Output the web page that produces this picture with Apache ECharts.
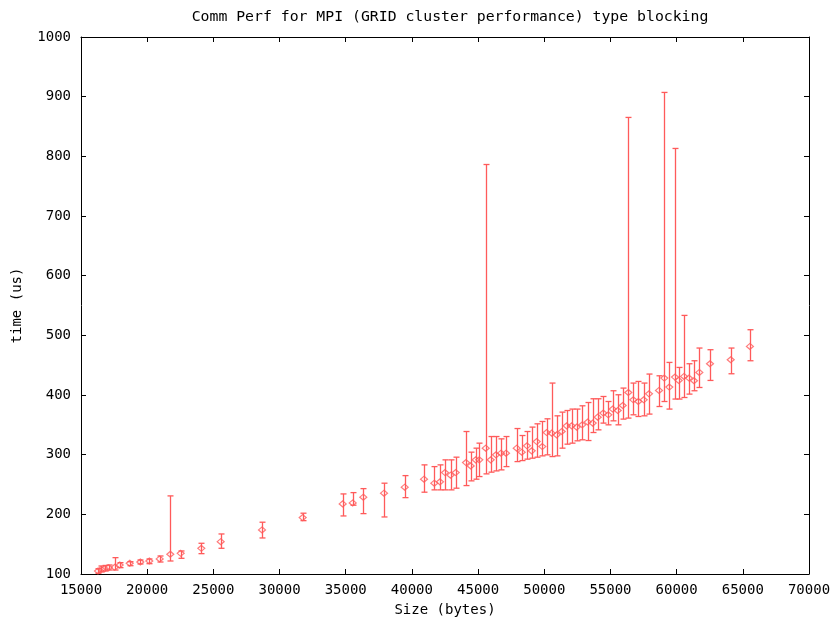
<!DOCTYPE html>
<html>
<head>
<meta charset="utf-8">
<script src="https://cdn.jsdelivr.net/npm/echarts@6/dist/echarts.min.js"></script>
<style>html,body{margin:0;padding:0;background:#fff;}#c{width:835px;height:618px;}</style>
</head>
<body>
<div id="c"></div>
<script>
var titleText = 'Comm Perf for MPI (GRID cluster performance) type blocking';
var xName = 'Size (bytes)';
var yName = 'time (us)';
var xTicks = [15000,20000,25000,30000,35000,40000,45000,50000,55000,60000,65000,70000];
var yTicks = [100,200,300,400,500,600,700,800,900,1000];

var sizes = [16284,16534,16790,17093,17546,17924,18679,19480,20160,20946,
  21747,22532,24089,25554,28675,31749,34771,35527,36328,37892,
  39456,40914,41692,42122,42500,42916,43309,44087,44442,44820,
  45092,45575,45953,46353,46731,47109,47917,48295,48695,49050,
  49428,49851,50184,50561,50939,51317,51695,52072,52450,52873,
  53281,53659,54037,54460,54838,55170,55548,55925,56349,56727,
  57104,57512,57912,58668,59068,59446,59877,60156,60557,60934,
  61312,61713,62521,64085,65536];

var means = [105.0,107.9,108.9,110.6,111.2,115.1,118.0,120.1,121.8,125.2,
  133.1,134.7,143.1,154.2,173.8,194.5,217.5,219.1,228.7,235.4,
  245.5,258.9,252.2,254.4,270.0,265.6,270.0,286.8,281.2,291.3,
  291.3,310.9,291.3,299.7,302.5,302.5,310.9,304.2,314.8,306.4,
  322.0,313.6,337.1,336.1,333.2,338.8,348.3,348.3,346.2,350.0,
  354.6,352.9,362.9,369.7,366.8,376.4,374.0,382.4,404.2,392.0,
  389.1,392.0,402.0,407.6,428.4,413.3,430.1,424.4,431.1,428.4,
  423.9,437.8,452.4,459.1,481.4];

var highs = [108.9,113.4,114.3,115.1,127.4,119.0,120.6,123.5,125.2,130.2,
  230.9,138.6,151.5,167.1,186.8,201.9,234.2,236.4,243.1,252.2,
  264.9,282.9,280.0,282.9,291.3,291.3,295.8,338.8,304.2,310.9,
  319.3,786.3,330.4,330.4,326.5,330.4,343.8,332.1,338.8,346.2,
  351.7,355.6,360.1,420.0,365.1,371.3,374.0,376.4,376.4,381.9,
  387.4,393.7,393.7,397.5,389.1,407.1,400.4,411.6,865.2,420.0,
  422.7,420.0,435.1,432.2,907.1,454.6,813.2,446.2,533.4,452.4,
  457.4,478.7,475.9,478.7,509.4];

var lows = [101.2,103.4,105.0,106.7,106.7,110.6,113.9,116.8,117.3,120.1,
  121.8,126.3,134.1,143.1,160.4,189.4,197.3,215.3,201.2,195.6,
  228.0,237.1,241.0,241.0,241.0,241.0,243.8,248.2,256.1,258.9,
  263.3,267.8,270.7,272.8,274.5,280.0,288.4,290.1,292.5,294.1,
  295.8,298.0,299.7,296.8,298.0,310.9,317.6,319.3,323.2,324.9,
  323.7,337.1,341.6,352.9,350.0,356.7,350.0,359.6,361.3,366.8,
  364.0,365.1,368.0,380.7,389.1,376.4,393.2,393.2,395.8,401.5,
  407.1,412.6,424.4,435.6,457.4];

var RED = '#ff5a5a';
var FONT = 'DejaVu Sans Mono';

var errData = sizes.map(function (s, i) { return [s, lows[i], highs[i]]; });
var ptData = sizes.map(function (s, i) { return [s, means[i]]; });

var chart = echarts.init(document.getElementById('c'), null, {renderer: 'canvas'});

var axisCommon = {
  axisLine: {show: true, lineStyle: {color: '#000', width: 1}},
  axisTick: {show: true, inside: true, length: 5, lineStyle: {color: '#000', width: 1}},
  splitLine: {show: false}
};

chart.setOption({
  animation: false,
  backgroundColor: '#fff',
  title: {
    text: titleText,
    left: 445,
    top: 5,
    textAlign: 'center',
    textStyle: {fontFamily: FONT, fontSize: 14.8, fontWeight: 'normal', color: '#000'}
  },
  grid: {left: 81, right: 26, top: 37, bottom: 44, containLabel: false, outerBoundsMode: 'none'},
  xAxis: [
    Object.assign({
      type: 'value', min: 15000, max: 70000, interval: 5000, position: 'bottom',
      name: xName, nameLocation: 'middle', nameGap: 29,
      nameTextStyle: {fontFamily: FONT, fontSize: 14, color: '#000'},
      axisLabel: {fontFamily: FONT, fontSize: 14, color: '#000', margin: 9,
        formatter: function (v) { return xTicks.indexOf(v) >= 0 ? String(v) : ''; }}
    }, axisCommon),
    Object.assign({
      type: 'value', min: 15000, max: 70000, interval: 5000, position: 'top',
      axisLabel: {show: false}
    }, axisCommon)
  ],
  yAxis: [
    Object.assign({
      type: 'value', min: 100, max: 1000, interval: 100, position: 'left',
      name: yName, nameLocation: 'middle', nameGap: 57, nameRotate: 90,
      nameTextStyle: {fontFamily: FONT, fontSize: 14, color: '#000'},
      axisLabel: {fontFamily: FONT, fontSize: 14, color: '#000', margin: 10,
        formatter: function (v) { return yTicks.indexOf(v) >= 0 ? String(v) : ''; }}
    }, axisCommon),
    Object.assign({
      type: 'value', min: 100, max: 1000, interval: 100, position: 'right',
      axisLabel: {show: false}
    }, axisCommon)
  ],
  series: [
    {
      type: 'custom',
      xAxisIndex: 0, yAxisIndex: 0,
      clip: true,
      data: errData,
      renderItem: function (params, api) {
        var x = api.value(0);
        var top = api.coord([x, api.value(2)]);
        var bot = api.coord([x, api.value(1)]);
        var cx = Math.round(top[0]) + 0.5;
        var hw = 3;
        var style = {stroke: RED, lineWidth: 1.3, fill: null};
        return {
          type: 'group',
          children: [
            {type: 'line', shape: {x1: cx, y1: top[1], x2: cx, y2: bot[1]}, style: style},
            {type: 'line', shape: {x1: cx - hw, y1: top[1], x2: cx + hw, y2: top[1]}, style: style},
            {type: 'line', shape: {x1: cx - hw, y1: bot[1], x2: cx + hw, y2: bot[1]}, style: style}
          ]
        };
      },
      z: 2
    },
    {
      type: 'scatter',
      xAxisIndex: 0, yAxisIndex: 0,
      data: ptData,
      symbol: 'diamond',
      symbolSize: [7, 6],
      itemStyle: {color: 'rgba(255,255,255,0)', borderColor: RED, borderWidth: 1.2},
      emphasis: {disabled: true},
      z: 3
    }
  ]
});
</script>
</body>
</html>
